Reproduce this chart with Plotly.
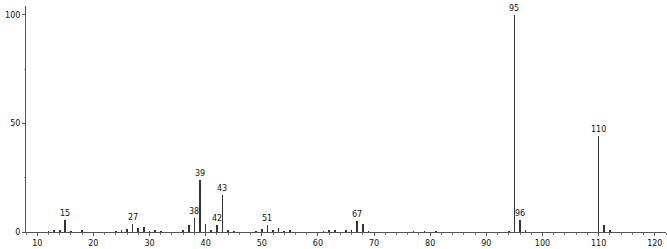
import plotly.graph_objects as go

mz = [12, 13, 14, 15, 16, 18, 24, 25, 26, 27, 28, 29, 30, 31, 32, 36, 37, 38, 39, 40,
      41, 42, 43, 44, 45, 49, 50, 51, 52, 53, 54, 55, 61, 62, 63, 65, 66, 67, 68, 69,
      77, 79, 81, 94, 95, 96, 97, 110, 111, 112]
intensity = [0.3, 0.5, 1.0, 5.4, 0.4, 0.5, 0.3, 0.5, 1.5, 3.8, 2.0, 2.4, 0.3, 0.5, 0.3, 0.8, 3.4, 6.5, 24.0, 3.8,
             1.0, 3.4, 17.0, 0.6, 0.3, 0.3, 1.5, 3.4, 1.0, 1.9, 0.4, 0.5, 0.3, 0.5, 0.5, 0.5, 0.8, 5.0, 3.9, 0.4,
             0.3, 0.3, 0.3, 0.3, 100.0, 5.7, 0.6, 44.3, 3.4, 0.5]
labeled_mz = [15, 27, 38, 39, 42, 43, 51, 67, 95, 96, 110]
x_ticks = [10, 20, 30, 40, 50, 60, 70, 80, 90, 100, 110, 120]
x_tick_text = ["10", "20", "30", "40", "50", "60", "70", "80", "90", "100", "110", "120"]
y_ticks = [0, 50, 100]

FONT = "DejaVu Sans"

fig = go.Figure()
fig.add_trace(go.Bar(
    x=mz, y=intensity, width=0.12,
    marker=dict(color="#333333", line=dict(width=0)),
    hoverinfo="x+y", showlegend=False,
))

lookup = dict(zip(mz, intensity))
for m in labeled_mz:
    fig.add_annotation(
        x=m, y=lookup[m], text=str(m), showarrow=False,
        yanchor="bottom", yshift=0, xanchor="center",
        font=dict(family=FONT, size=8, color="#111111"),
    )

fig.update_layout(
    width=667, height=249,
    margin=dict(l=26, r=1, t=6, b=17),
    paper_bgcolor="white", plot_bgcolor="white",
    bargap=0,
    font=dict(family=FONT, size=8, color="#111111"),
    xaxis=dict(
        range=[8, 122], tickvals=x_ticks, ticktext=x_tick_text,
        showgrid=False, zeroline=False,
        showline=True, linecolor="#555555", linewidth=1,
        ticks="outside", ticklen=3, tickcolor="#555555",
        minor=dict(dtick=2, tick0=0, ticks="outside", ticklen=2, tickcolor="#777777"),
        tickfont=dict(family=FONT, size=8), fixedrange=True,
    ),
    yaxis=dict(
        range=[0, 104], tickvals=y_ticks,
        showgrid=False, zeroline=False,
        showline=True, linecolor="#555555", linewidth=1,
        ticks="outside", ticklen=3, tickcolor="#555555",
        minor=dict(tickvals=[25, 75], ticks="outside", ticklen=1, tickcolor="#999999"),
        tickfont=dict(family=FONT, size=8), fixedrange=True,
    ),
)

fig.write_html("out.html")
